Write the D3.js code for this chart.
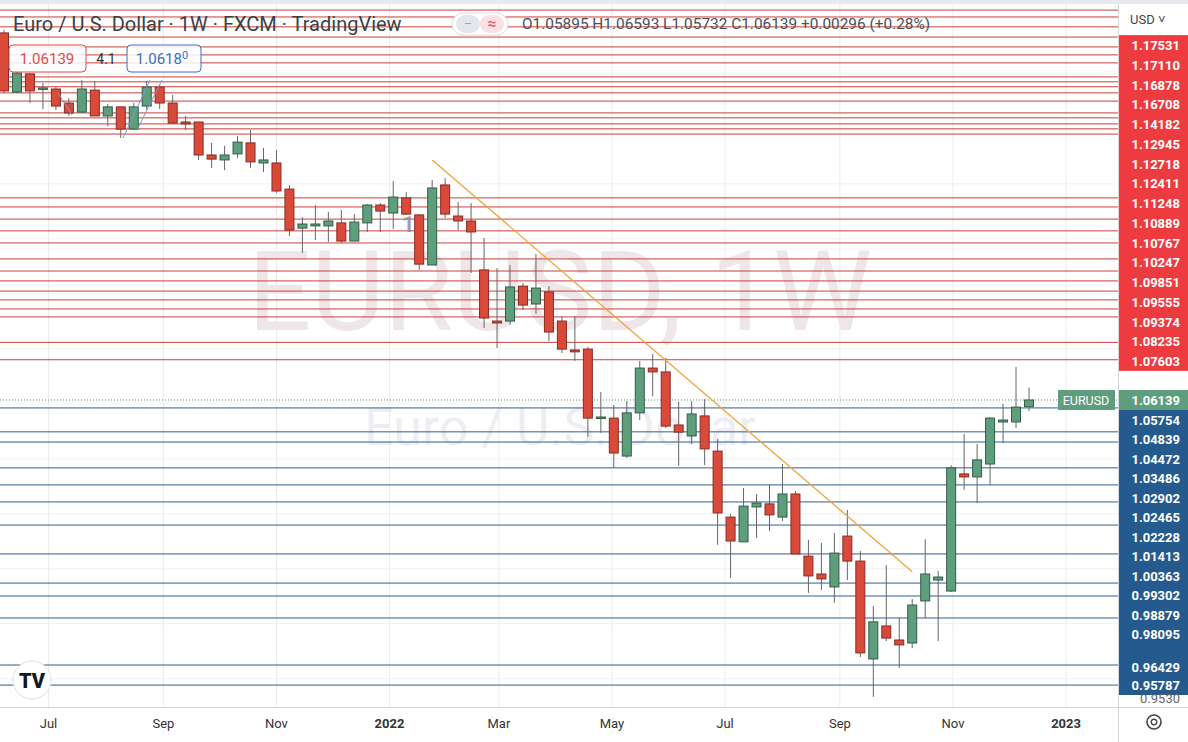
<!DOCTYPE html>
<html>
<head>
<meta charset="utf-8">
<script src="https://cdn.jsdelivr.net/npm/d3@7"></script>
<style>
  body { margin: 0; background: #fff; }
  svg { display: block; font-family: Roboto, "Open Sans", sans-serif; }
</style>
</head>
<body>
<div id="chart"></div>
<script>
// weekly candles EURUSD, first week 2021-06-07
const firstWeek = "2021-06-07"
const opens = [1.1949,1.1734,1.1800,1.1745,1.1745,1.1694,1.1661,1.1741,1.1647,1.1680,1.1599,1.1683,1.1752,1.1694,1.1625,1.1625,1.1505,1.1487,1.1509,1.1549,1.1476,1.1476,1.1381,1.1239,1.1247,1.1247,1.1258,1.1192,1.1258,1.1323,1.1294,1.1349,1.1287,1.1105,1.1396,1.1283,1.1265,1.1087,1.0901,1.0901,1.1028,1.0963,1.1007,1.0901,1.0796,1.0799,1.0548,1.0548,1.0410,1.0567,1.0730,1.0716,1.0523,1.0483,1.0556,1.0428,1.0188,1.0098,1.0225,1.0236,1.0188,1.0272,1.0046,0.9981,0.9934,1.0119,1.0028,0.9672,0.9792,0.9741,0.9730,0.9883,0.9959,0.9919,1.0345,1.0334,1.0381,1.0534,1.0534,1.05895]
const highs = [1.1960,1.1807,1.1803,1.1767,1.1752,1.1712,1.1778,1.1774,1.1690,1.1680,1.1694,1.1774,1.1760,1.1723,1.1647,1.1625,1.1549,1.1538,1.1574,1.1596,1.1530,1.1523,1.1396,1.1279,1.1323,1.1298,1.1305,1.1290,1.1327,1.1330,1.1410,1.1370,1.1290,1.1414,1.1421,1.1334,1.1330,1.1203,1.1094,1.1105,1.1039,1.1145,1.1028,1.0919,1.0919,1.0807,1.0643,1.0596,1.0610,1.0756,1.0781,1.0767,1.0607,1.0610,1.0617,1.0472,1.0199,1.0294,1.0272,1.0305,1.0381,1.0283,1.0105,1.0094,1.0130,1.0214,1.0065,0.9865,1.0014,0.9821,0.9890,1.0108,0.9992,1.0377,1.0490,1.0454,1.0552,1.0599,1.0734,1.06593]
const lows = [1.1730,1.1730,1.1694,1.1672,1.1669,1.1647,1.1658,1.1647,1.1610,1.1567,1.1596,1.1669,1.1672,1.1621,1.1596,1.1487,1.1458,1.1450,1.1494,1.1458,1.1443,1.1367,1.1210,1.1149,1.1196,1.1189,1.1185,1.1192,1.1225,1.1225,1.1236,1.1287,1.1087,1.1105,1.1276,1.1232,1.1076,1.0876,1.0803,1.0887,1.0941,1.0927,1.0828,1.0785,1.0756,1.0479,1.0494,1.0367,1.0403,1.0541,1.0628,1.0512,1.0374,1.0454,1.0377,1.0087,0.9967,1.0098,1.0112,1.0137,1.0174,1.0054,0.9912,0.9923,0.9876,0.9959,0.9679,0.9534,0.9737,0.9639,0.9712,0.9821,0.9737,0.9916,1.0287,1.0239,1.0305,1.0457,1.0512,1.05732]
const closes = [1.1738,1.1803,1.1738,1.1749,1.1683,1.1658,1.1745,1.1647,1.1680,1.1599,1.1680,1.1752,1.1694,1.1621,1.1618,1.1505,1.1490,1.1505,1.1552,1.1480,1.1487,1.1374,1.1232,1.1254,1.1254,1.1265,1.1192,1.1261,1.1323,1.1301,1.1352,1.1290,1.1108,1.1385,1.1290,1.1265,1.1225,1.0912,1.0894,1.1025,1.0959,1.1021,1.0861,1.0799,1.0789,1.0548,1.0552,1.0421,1.0567,1.0730,1.0716,1.0519,1.0497,1.0563,1.0436,1.0203,1.0101,1.0228,1.0239,1.0196,1.0272,1.0054,0.9974,0.9963,1.0057,1.0028,0.9694,0.9807,0.9748,0.9723,0.9868,0.9981,0.9970,1.0367,1.0334,1.0396,1.0548,1.0541,1.0588,1.06139]

// horizontal levels drawn on the chart
const redLevels = [1.2032,1.2007,1.1971,1.1934,1.1898,1.1869,1.1840,1.1789,1.1771,1.17531,1.1731,1.1701,1.1658,1.1640,1.1618,1.1600,1.1581,1.1349,1.1316,1.12718,1.1229,1.1185,1.1127,1.1083,1.1047,1.1010,1.0978,1.0945,1.0916,1.08235,1.07603]
const blueLevels = [1.0585,1.0498,1.0461,1.0367,1.0305,1.0243,1.0159,1.0054,0.9948,0.9901,0.9821,0.9650,0.9577]
const redLabels = ["1.17531","1.17110","1.16878","1.16708","1.14182","1.12945","1.12718","1.12411","1.11248","1.10889","1.10767","1.10247","1.09851","1.09555","1.09374","1.08235","1.07603"]
const blueLabels = ["1.05754","1.04839","1.04472","1.03486","1.02902","1.02465","1.02228","1.01413","1.00363","0.99302","0.98879","0.98095"]
const blueLabelsLow = ["0.96429","0.95787"]
const lastPrice = 1.06139
const monthTicks = [["2021-07-01","Jul"],["2021-09-01","Sep"],["2021-11-01","Nov"],["2022-01-01","2022"],["2022-03-01","Mar"],["2022-05-01","May"],["2022-07-01","Jul"],["2022-09-01","Sep"],["2022-11-01","Nov"],["2023-01-01","2023"]]
const trendFrom = ["2022-01-24", 1.1487]
const trendTo = ["2022-10-10", 0.9989]

const W = 1188, H = 742, plotR = 1118, plotB = 707
const parse = d3.utcParse("%Y-%m-%d")
const weekMs = 7 * 864e5
const candles = opens.map((o, i) => ({
  date: new Date(parse(firstWeek).getTime() + i * weekMs),
  o, h: highs[i], l: lows[i], c: closes[i]
}))

const x = d3.scaleUtc()
  .domain([parse(firstWeek), candles[candles.length - 1].date])
  .range([4, 1029])
const y = d3.scaleLinear().domain([1.20687, 0.9530]).range([0, 698])

const svg = d3.select("#chart").append("svg").attr("width", W).attr("height", H)

// grid
const grid = svg.append("g")
grid.selectAll("line.v").data(monthTicks).join("line")
  .attr("x1", d => x(parse(d[0]))).attr("x2", d => x(parse(d[0])))
  .attr("y1", 0).attr("y2", plotB).attr("stroke", "#ececec")
grid.selectAll("line.h").data(d3.range(0.96, 1.21, 0.02)).join("line")
  .attr("x1", 0).attr("x2", plotR).attr("y1", d => y(d)).attr("y2", d => y(d))
  .attr("stroke", "#f1f1f1")

// watermark
svg.append("text").attr("x", 560).attr("y", 330).attr("text-anchor", "middle")
  .attr("font-size", 112).attr("fill", "#efe6e9").text("EURUSD, 1W")
svg.append("text").attr("x", 560).attr("y", 445).attr("text-anchor", "middle")
  .attr("font-size", 52).attr("fill", "#eceef3").text("Euro / U.S. Dollar")

// levels
svg.append("g").selectAll("line").data(redLevels).join("line")
  .attr("x1", 0).attr("x2", plotR).attr("y1", d => y(d)).attr("y2", d => y(d))
  .attr("stroke", "#c8403a").attr("stroke-width", 1)
svg.append("g").selectAll("line").data(blueLevels).join("line")
  .attr("x1", 0).attr("x2", plotR).attr("y1", d => y(d)).attr("y2", d => y(d))
  .attr("stroke", "#2d5f8f").attr("stroke-width", 1)

// last price dotted line
svg.append("line").attr("x1", 0).attr("x2", plotR)
  .attr("y1", y(lastPrice)).attr("y2", y(lastPrice))
  .attr("stroke", "#4f8f72").attr("stroke-dasharray", "1,2")

// candles
const cg = svg.append("g").selectAll("g").data(candles).join("g")
cg.append("line")
  .attr("x1", d => x(d.date)).attr("x2", d => x(d.date))
  .attr("y1", d => y(d.h)).attr("y2", d => y(d.l))
  .attr("stroke", "#666")
cg.append("rect")
  .attr("x", d => x(d.date) - 4.5).attr("width", 9)
  .attr("y", d => y(Math.max(d.o, d.c)))
  .attr("height", d => Math.max(1.5, Math.abs(y(d.o) - y(d.c))))
  .attr("fill", d => d.c >= d.o ? "#5f9e7c" : "#d94a3a")
  .attr("stroke", d => d.c >= d.o ? "#2f5e46" : "#8a2b22")

// trend line
svg.append("line")
  .attr("x1", x(parse(trendFrom[0]))).attr("y1", y(trendFrom[1]))
  .attr("x2", x(parse(trendTo[0]))).attr("y2", y(trendTo[1]))
  .attr("stroke", "#f0a43c").attr("stroke-width", 1.3)

// small blue drawings
const bl = svg.append("g").attr("stroke", "#7f97d0").attr("stroke-width", 1)
bl.append("line").attr("x1", 123).attr("y1", 138).attr("x2", 150).attr("y2", 80)
bl.append("line").attr("x1", 137).attr("y1", 130).attr("x2", 162).attr("y2", 80)
bl.append("line").attr("x1", 58).attr("y1", 93).attr("x2", 72).attr("y2", 115)
svg.append("text").attr("x", 402).attr("y", 232).attr("font-size", 22)
  .attr("fill", "#8a8f9c").attr("fill-opacity", 0.85).attr("font-weight", "bold").text("1")

// header
svg.append("rect").attr("x", 0).attr("y", 0).attr("width", W).attr("height", 4).attr("fill", "#e6e9ee")
svg.append("text").attr("x", 13).attr("y", 31).attr("font-size", 20).attr("fill", "#3c3f46")
  .text("Euro / U.S. Dollar · 1W · FXCM · TradingView")
svg.append("rect").attr("x", 452).attr("y", 13).attr("width", 56).attr("height", 22).attr("rx", 11)
  .attr("fill", "#fff").attr("stroke", "#ddd")
svg.append("rect").attr("x", 456).attr("y", 15).attr("width", 24).attr("height", 18).attr("rx", 9).attr("fill", "#e3e6ec")
svg.append("rect").attr("x", 480).attr("y", 15).attr("width", 24).attr("height", 18).attr("rx", 9).attr("fill", "#fbe0e4")
svg.append("text").attr("x", 468).attr("y", 28).attr("text-anchor", "middle").attr("font-size", 12).attr("fill", "#9aa").text("–")
svg.append("text").attr("x", 492).attr("y", 29).attr("text-anchor", "middle").attr("font-size", 16).attr("fill", "#e0506a").text("≈")
svg.append("text").attr("x", 522).attr("y", 29).attr("font-size", 15.4).attr("fill", "#4b4f57")
  .text("O1.05895 H1.06593 L1.05732 C1.06139 +0.00296 (+0.28%)")

svg.append("rect").attr("x", 9).attr("y", 45).attr("width", 77).attr("height", 27).attr("rx", 4)
  .attr("fill", "#fff").attr("fill-opacity", 0.85).attr("stroke", "#e04a4a")
svg.append("text").attr("x", 47).attr("y", 64).attr("text-anchor", "middle").attr("font-size", 15).attr("fill", "#e04a4a").text("1.06139")
svg.append("text").attr("x", 106).attr("y", 64).attr("text-anchor", "middle").attr("font-size", 14).attr("fill", "#333").text("4.1")
svg.append("rect").attr("x", 127).attr("y", 45).attr("width", 74).attr("height", 27).attr("rx", 4)
  .attr("fill", "#fff").attr("fill-opacity", 0.85).attr("stroke", "#3a6fc2")
svg.append("text").attr("x", 162).attr("y", 64).attr("text-anchor", "middle").attr("font-size", 15).attr("fill", "#3a6fc2")
  .append("tspan").text("1.0618").append("tspan").attr("dy", -5).attr("font-size", 11).text("0")

// right price axis
svg.append("rect").attr("x", plotR).attr("y", 4).attr("width", W - plotR).attr("height", H - 4).attr("fill", "#fff")
svg.append("line").attr("x1", plotR + 0.5).attr("x2", plotR + 0.5).attr("y1", 4).attr("y2", H).attr("stroke", "#d6d6d6")
svg.append("text").attr("x", 1130).attr("y", 24).attr("font-size", 13).attr("fill", "#444").text("USD ˅")

const labH = 19.75
svg.append("rect").attr("x", plotR + 1).attr("y", 361 - (redLabels.length - 0.5) * labH)
  .attr("width", W - plotR - 1).attr("height", redLabels.length * labH).attr("fill", "#ee3b3f")
svg.append("g").selectAll("text").data(redLabels).join("text")
  .attr("x", 1180).attr("y", (d, i) => 361 - (redLabels.length - 1 - i) * labH + 5)
  .attr("text-anchor", "end").attr("font-size", 13).attr("font-weight", "bold").attr("fill", "#fff").text(d => d)

const blH = 19.45
svg.append("rect").attr("x", plotR + 1).attr("y", 410).attr("width", W - plotR - 1).attr("height", 285).attr("fill", "#245a8d")
svg.append("g").selectAll("text").data(blueLabels).join("text")
  .attr("x", 1180).attr("y", (d, i) => 420 + i * blH + 5)
  .attr("text-anchor", "end").attr("font-size", 13).attr("font-weight", "bold").attr("fill", "#fff").text(d => d)
svg.append("g").selectAll("text").data(blueLabelsLow).join("text")
  .attr("x", 1180).attr("y", d => y(+d) + 5)
  .attr("text-anchor", "end").attr("font-size", 13).attr("font-weight", "bold").attr("fill", "#fff").text(d => d)
svg.append("text").attr("x", 1180).attr("y", 703).attr("text-anchor", "end").attr("font-size", 13).attr("fill", "#666").text("0.9530")

// last price labels
svg.append("rect").attr("x", plotR + 1).attr("y", y(lastPrice) - 10).attr("width", W - plotR - 1).attr("height", 20).attr("fill", "#5e9e7e")
svg.append("text").attr("x", 1180).attr("y", y(lastPrice) + 5).attr("text-anchor", "end")
  .attr("font-size", 13).attr("font-weight", "bold").attr("fill", "#fff").text(lastPrice.toFixed(5))
svg.append("rect").attr("x", 1058).attr("y", y(lastPrice) - 10).attr("width", 57).attr("height", 20).attr("fill", "#5e9e7e")
svg.append("text").attr("x", 1086).attr("y", y(lastPrice) + 5).attr("text-anchor", "middle")
  .attr("font-size", 12.5).attr("fill", "#fff").text("EURUSD")

// time axis
svg.append("rect").attr("x", 0).attr("y", plotB).attr("width", plotR).attr("height", H - plotB).attr("fill", "#fff")
svg.append("line").attr("x1", 0).attr("x2", W).attr("y1", plotB + 0.5).attr("y2", plotB + 0.5).attr("stroke", "#d6d6d6")
svg.append("g").selectAll("text").data(monthTicks).join("text")
  .attr("x", d => x(parse(d[0]))).attr("y", 728).attr("text-anchor", "middle")
  .attr("font-size", 13).attr("fill", "#333")
  .attr("font-weight", d => /^\d/.test(d[1]) ? "bold" : "normal").text(d => d[1])

// gear icon
const gear = svg.append("g").attr("transform", "translate(1154,722)")
gear.append("circle").attr("r", 7).attr("fill", "none").attr("stroke", "#444").attr("stroke-width", 1.6)
gear.append("circle").attr("r", 2.8).attr("fill", "none").attr("stroke", "#444").attr("stroke-width", 1.4)

// TV logo
svg.append("circle").attr("cx", 32).attr("cy", 680).attr("r", 19).attr("fill", "#fff").attr("stroke", "#e0e0e0")
svg.append("text").attr("x", 32).attr("y", 688).attr("text-anchor", "middle").attr("font-size", 20)
  .attr("font-weight", "900").attr("fill", "#131722").text("TV")
</script>
</body>
</html>
